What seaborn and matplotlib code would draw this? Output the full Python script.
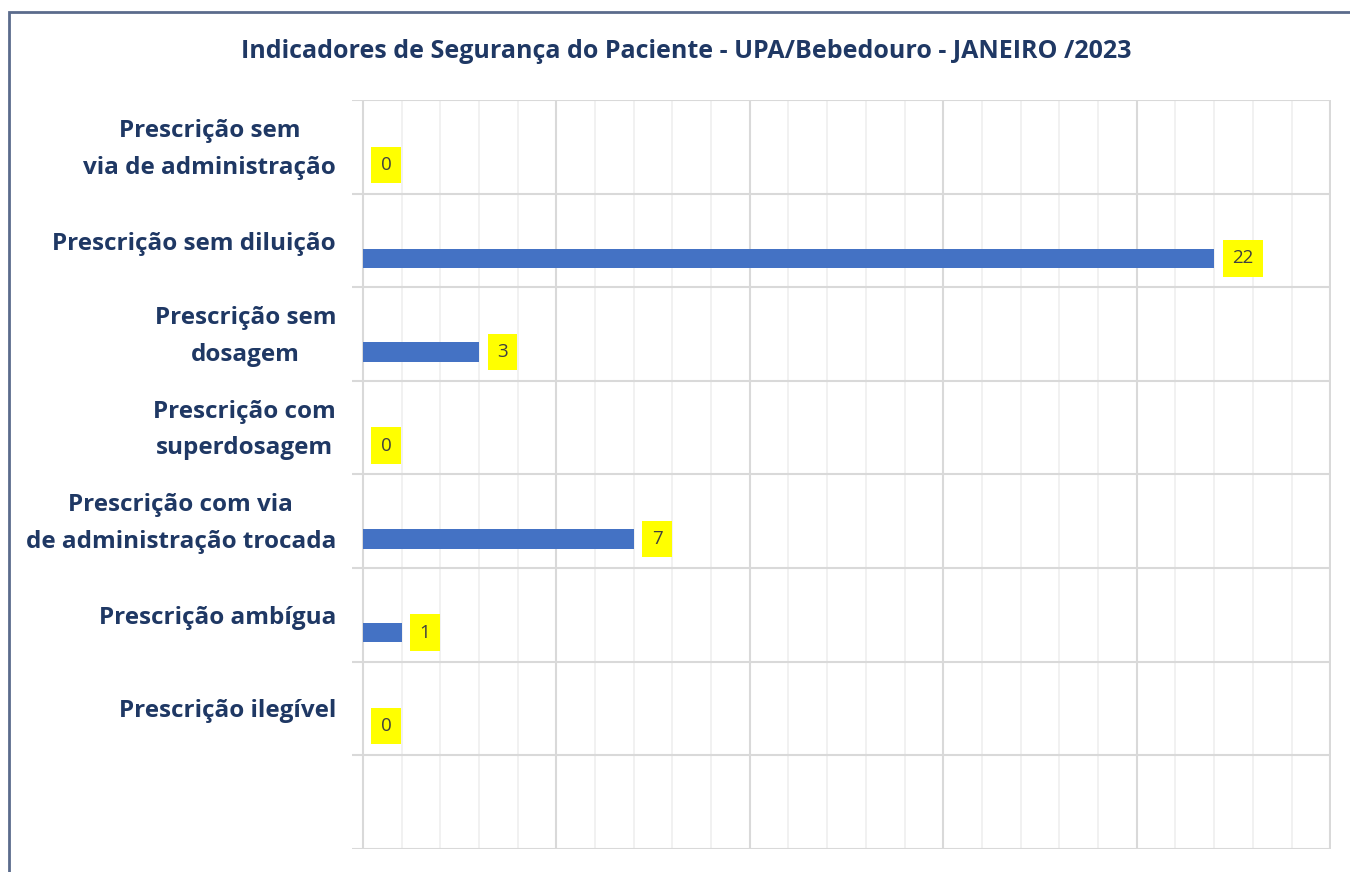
import matplotlib
matplotlib.use("Agg")
import matplotlib.pyplot as plt
import matplotlib.transforms as mtransforms
import seaborn as sns
import pandas as pd
import numpy as np
from matplotlib.patches import Rectangle
from matplotlib.ticker import MultipleLocator

categories = [
    "Prescrição sem\nvia de administração",
    "Prescrição sem diluição",
    "Prescrição sem\ndosagem",
    "Prescrição com\nsuperdosagem",
    "Prescrição com via\nde administração trocada",
    "Prescrição ambígua",
    "Prescrição ilegível",
]
values = [0, 22, 3, 0, 7, 1, 0]
title = "Indicadores de Segurança do Paciente - UPA/Bebedouro - JANEIRO /2023"

sns.set_theme(style="white")
plt.rcParams['font.family'] = ['Open Sans', 'DejaVu Sans']

navy = "#1F3864"
bar_color = "#4472C4"

fig = plt.figure(figsize=(13.5, 8.72), dpi=100)
ax = fig.add_axes([352/1350, 1 - 849/872, (1331 - 352)/1350, (849 - 100)/872])

df = pd.DataFrame({"cat": categories, "val": values})
sns.barplot(data=df, y="cat", x="val", orient="h", color=bar_color,
            width=0.21, saturation=1, ax=ax, zorder=3)
offset = 0.19
for p in ax.patches:
    p.set_y(p.get_y() + offset)
    p.set_edgecolor("none")

ax.set_xlim(-0.28, 25.02)
ax.set_ylim(7.505, -0.505)

# grid
ax.xaxis.set_major_locator(MultipleLocator(5))
ax.xaxis.set_minor_locator(MultipleLocator(1))
ax.set_yticks(np.arange(len(categories)))
ax.set_yticks(np.arange(-0.5, 8, 1), minor=True)
ax.grid(True, which="major", axis="x", color="#D9D9D9", lw=1.5, zorder=0)
ax.grid(True, which="minor", axis="x", color="#F0F0F0", lw=1.3, zorder=0)
ax.grid(True, which="minor", axis="y", color="#D9D9D9", lw=1.5, zorder=0)
ax.grid(False, which="major", axis="y")
ax.set_axisbelow(True)

ax.set_xticklabels([])
ax.tick_params(axis="x", which="both", length=0)
ax.tick_params(axis="y", which="both", length=0, pad=11.5)
ax.set_yticklabels(categories, fontsize=17.5, fontweight="bold", color=navy,
                   multialignment="center", linespacing=1.7)
shift = mtransforms.ScaledTranslation(0, 5/72, fig.dpi_scale_trans)
for lab in ax.get_yticklabels():
    if "\n" in lab.get_text():
        lab.set_transform(lab.get_transform() + shift)
ax.set_xlabel("")
ax.set_ylabel("")
for s in ax.spines.values():
    s.set_visible(False)

# value labels
for i, v in enumerate(values):
    ax.annotate(str(v), xy=(v, i + offset), xytext=(18, 0),
                textcoords="offset pixels", ha="left", va="center",
                fontsize=13.5, color="#404040",
                bbox=dict(boxstyle="square,pad=0.5", fc="#FFFF00", ec="none"),
                zorder=5)

fig.text(686/1350, 1 - 52/872, title, ha="center", va="center",
         fontsize=18, fontweight="bold", color=navy)

fig.add_artist(Rectangle((9/1350, -0.05), 1.2, (1 - 12/872) + 0.05,
                         transform=fig.transFigure, fill=False,
                         ec="#5B6B8C", lw=2))

fig.savefig("out.png", dpi=100)
